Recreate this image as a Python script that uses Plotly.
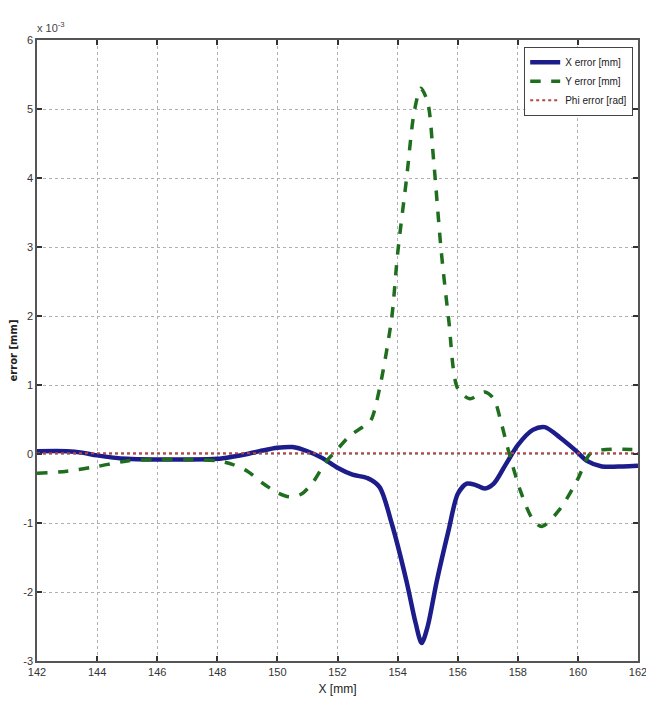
import plotly.graph_objects as go

# X error [mm] (values in units of 1e-3)
x_err_x = [142, 143, 143.5, 144, 145, 146, 147, 148, 148.5, 149, 149.5, 150, 150.5, 151, 151.5,
           152, 152.5, 153, 153.4, 153.8, 154.3, 154.6, 154.8, 155, 155.3, 155.7, 156, 156.3,
           156.6, 156.9, 157.2, 157.6, 158, 158.5, 158.9, 159.4, 159.9, 160.3, 160.8, 161.5, 162]
x_err_y = [0.04, 0.04, 0.02, -0.02, -0.07, -0.08, -0.08, -0.07, -0.04, 0.0, 0.05, 0.09, 0.1, 0.04, -0.06,
           -0.2, -0.3, -0.35, -0.48, -1.0, -1.85, -2.45, -2.74, -2.5, -1.85, -1.1, -0.58, -0.43,
           -0.45, -0.5, -0.43, -0.15, 0.13, 0.35, 0.39, 0.24, 0.06, -0.1, -0.18, -0.18, -0.17]

# Y error [mm] (values in units of 1e-3)
y_err_x = [142, 143, 144, 145, 146, 147, 148, 148.5, 149, 149.5, 150, 150.4, 150.8, 151.2, 151.6,
           151.9, 152.4, 152.8, 153.1, 153.4, 153.8, 154.0, 154.3, 154.55, 154.77, 155.0, 155.2,
           155.45, 155.7, 156.0, 156.4, 156.9, 157.2, 157.45, 157.7, 158.1, 158.5, 158.8, 159.4,
           160.0, 160.4, 160.8, 161.5, 162]
y_err_y = [-0.28, -0.25, -0.18, -0.1, -0.08, -0.08, -0.1, -0.15, -0.25, -0.42, -0.56, -0.62, -0.58, -0.4, -0.12,
           0.02, 0.26, 0.38, 0.48, 0.95, 1.96, 2.9, 4.0, 4.95, 5.3, 5.1, 4.25,
           2.95, 1.95, 0.95, 0.8, 0.9, 0.8, 0.45, 0.03, -0.55, -0.95, -1.05, -0.8,
           -0.36, 0.0, 0.06, 0.07, 0.06]

# Phi error [rad] (values in units of 1e-3)
phi_x = [142, 146, 150, 154, 158, 162]
phi_y = [0.01, 0.01, 0.01, 0.01, 0.01, 0.01]

x_ticks = [142, 144, 146, 148, 150, 152, 154, 156, 158, 160, 162]
y_ticks = [-3, -2, -1, 0, 1, 2, 3, 4, 5, 6]

FONT = "Liberation Sans, Arial, sans-serif"

fig = go.Figure()
fig.add_trace(go.Scatter(x=x_err_x, y=x_err_y, mode="lines", name="X error [mm]",
                         line=dict(color="#1c1c8a", width=4.5, shape="spline", smoothing=0.8)))
fig.add_trace(go.Scatter(x=y_err_x, y=y_err_y, mode="lines", name="Y error [mm]",
                         line=dict(color="#1e6e1e", width=3.5, dash="dash", shape="spline", smoothing=0.8)))
fig.add_trace(go.Scatter(x=phi_x, y=phi_y, mode="lines", name="Phi error [rad]",
                         line=dict(color="#b04848", width=2, dash="dot")))

axis_common = dict(
    showgrid=True, gridcolor="#b0b0b0", griddash="dot", gridwidth=1,
    showline=True, linecolor="#555555", linewidth=1.5, mirror="ticks",
    ticks="inside", ticklen=5, tickcolor="#333333", tickwidth=1.5,
    zeroline=False, automargin=False, ticklabeloverflow="allow",
    tickfont=dict(family=FONT, size=11, color="#333333"),
)

fig.update_xaxes(range=[142, 162], tickvals=x_ticks, ticktext=[str(v) for v in x_ticks],
                 title=dict(text="X [mm]", font=dict(family=FONT, size=12, color="#222222"), standoff=8),
                 **axis_common)
fig.update_yaxes(range=[-3, 6], tickvals=y_ticks, ticktext=[str(v) for v in y_ticks],
                 title=dict(text="<b>error [mm]</b>", font=dict(family="DejaVu Sans", size=10, color="#222222"), standoff=4),
                 **axis_common)

fig.add_annotation(text="x 10<sup>-3</sup>", xref="paper", yref="paper", x=0, y=1,
                   xanchor="left", yanchor="bottom", yshift=4, xshift=-2, showarrow=False,
                   font=dict(family=FONT, size=11, color="#444444"))

# page body adds an 8px margin, so the figure is sized/offset to fit the 654x708 window
fig.update_layout(
    width=646, height=700,
    margin=dict(l=29, r=16, t=32, b=47),
    paper_bgcolor="white", plot_bgcolor="white",
    showlegend=True,
    legend=dict(x=0.992, y=0.989, xanchor="right", yanchor="top",
                bgcolor="white", bordercolor="#444444", borderwidth=1,
                font=dict(family=FONT, size=10, color="#222222"),
                tracegroupgap=0, itemwidth=30),
)

fig.write_html("out.html")
